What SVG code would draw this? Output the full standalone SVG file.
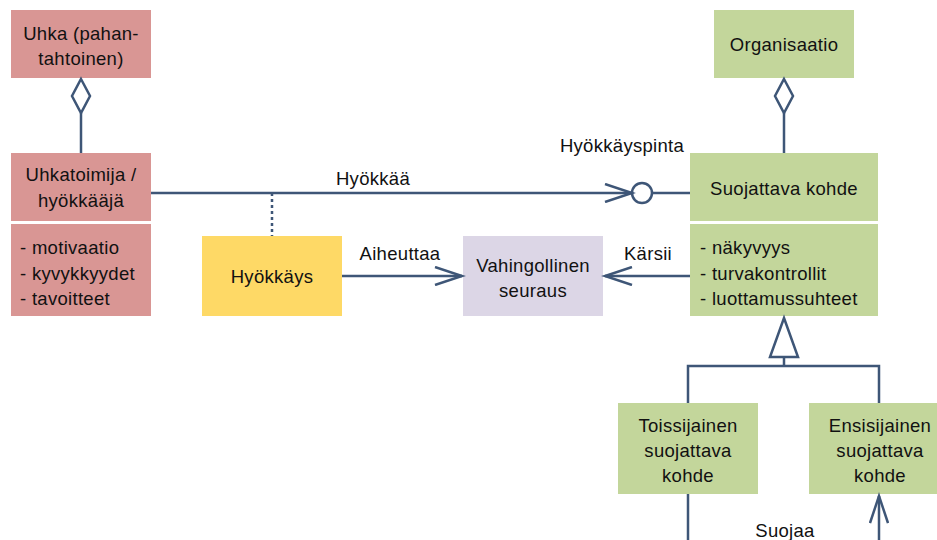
<svg xmlns="http://www.w3.org/2000/svg" width="937" height="540" viewBox="0 0 937 540">
<style>
text{font-family:"Liberation Sans",Arial,sans-serif;font-size:18.5px;letter-spacing:0.3px;fill:#111;}
.c{text-anchor:middle}
.red{fill:#D99694}
.grn{fill:#C3D69B}
.ln{stroke:#3E5677;stroke-width:2.5;fill:none}
</style>
<defs>
<marker id="open" markerWidth="32" markerHeight="20" refX="28" refY="10" orient="auto" markerUnits="userSpaceOnUse">
<path d="M1,1 L28,10 L1,19" fill="none" stroke="#3E5677" stroke-width="2.5"/>
</marker>
</defs>
<rect width="937" height="540" fill="#fff"/>
<g id="uhka">
<rect class="red" x="11" y="10" width="140" height="68"/>
<text class="c" x="81" y="40">Uhka (pahan-</text>
<text class="c" x="81" y="65">tahtoinen)</text>
</g>
<g id="uhkatoimija">
<rect class="red" x="11" y="153" width="140" height="68"/>
<rect class="red" x="11" y="224" width="140" height="92"/>
<text class="c" x="81" y="181">Uhkatoimija /</text>
<text class="c" x="81" y="207">hyökkääjä</text>
<text x="20" y="254">- motivaatio</text>
<text x="20" y="280">- kyvykkyydet</text>
<text x="20" y="305">- tavoitteet</text>
</g>
<g id="hyokkays">
<rect x="202" y="236" width="140" height="80" fill="#FED966"/>
<text class="c" x="272" y="283">Hyökkäys</text>
</g>
<g id="vahingollinen">
<rect x="463" y="236" width="140" height="80" fill="#DCD6E6"/>
<text class="c" x="533" y="272">Vahingollinen</text>
<text class="c" x="533" y="297">seuraus</text>
</g>
<g id="organisaatio">
<rect class="grn" x="714" y="10" width="140" height="68"/>
<text class="c" x="784" y="51">Organisaatio</text>
</g>
<g id="suojattava">
<rect class="grn" x="690" y="153" width="188" height="68"/>
<rect class="grn" x="690" y="224" width="188" height="92"/>
<text class="c" x="784" y="195">Suojattava kohde</text>
<text x="700" y="254">- näkyvyys</text>
<text x="700" y="280">- turvakontrollit</text>
<text x="700" y="305">- luottamussuhteet</text>
</g>
<g id="toissijainen">
<rect class="grn" x="618" y="403" width="140" height="91"/>
<text class="c" x="688" y="432">Toissijainen</text>
<text class="c" x="688" y="457">suojattava</text>
<text class="c" x="688" y="482">kohde</text>
</g>
<g id="ensisijainen">
<rect class="grn" x="809" y="403" width="140" height="91"/>
<text class="c" x="880" y="432">Ensisijainen</text>
<text class="c" x="880" y="457">suojattava</text>
<text class="c" x="880" y="482">kohde</text>
</g>
<g id="connectors">
<path class="ln" d="M81,79 L90,96 L81,113 L72,96 Z"/>
<line class="ln" x1="81" y1="113" x2="81" y2="153"/>
<path class="ln" d="M784,79 L793,96 L784,113 L775,96 Z"/>
<line class="ln" x1="784" y1="113" x2="784" y2="153"/>
<line class="ln" x1="151" y1="193" x2="632" y2="193" marker-end="url(#open)"/>
<circle class="ln" cx="642" cy="193" r="10"/>
<line class="ln" x1="652" y1="193" x2="690" y2="193"/>
<line class="ln" x1="272" y1="193" x2="272" y2="236" stroke-dasharray="3,3"/>
<line class="ln" x1="342" y1="276" x2="462" y2="276" marker-end="url(#open)"/>
<line class="ln" x1="690" y1="276" x2="605" y2="276" marker-end="url(#open)"/>
<path class="ln" d="M784,318 L798,357 L770,357 Z"/>
<polyline class="ln" points="688,403 688,366 879,366 879,403"/>
<line class="ln" x1="784" y1="357" x2="784" y2="366"/>
<line class="ln" x1="688" y1="494" x2="688" y2="540"/>
<line class="ln" x1="879" y1="540" x2="879" y2="496" marker-end="url(#open)"/>
<text class="c" x="373" y="185">Hyökkää</text>
<text class="c" x="622" y="152">Hyökkäyspinta</text>
<text class="c" x="400" y="260">Aiheuttaa</text>
<text class="c" x="648" y="260">Kärsii</text>
<text class="c" x="785" y="537">Suojaa</text>
</g>
</svg>
